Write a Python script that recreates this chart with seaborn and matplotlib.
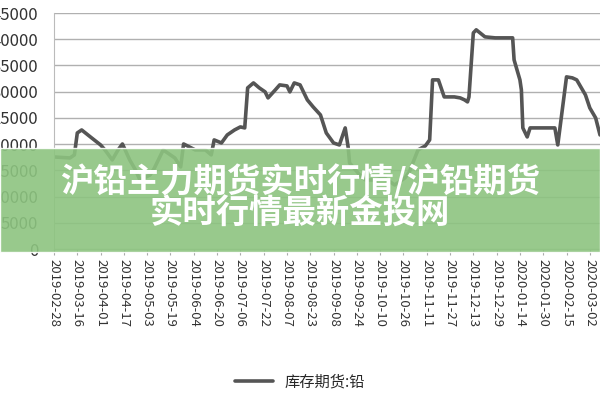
import pandas as pd
import seaborn as sns
import matplotlib.pyplot as plt

# days since 2019-02-28 and inventory values
day_offsets = [0, 11, 14, 16, 19, 25, 32, 35, 40, 44, 47, 52, 56, 59, 66, 69, 75, 83, 87, 89,
               93, 97, 104, 108, 110, 115, 119, 124, 128, 131, 133, 137, 141, 145, 147, 152, 155, 160, 162, 165,
               169, 174, 178, 183, 187, 192, 196, 200, 202, 203, 210, 214, 220, 227, 234, 241, 244, 250, 255, 258,
               260, 264, 268, 275, 279, 282, 284, 285, 288, 290, 296, 303, 315, 316, 320, 321, 322, 325, 327, 344,
               346, 352, 356, 359, 365, 368, 372, 375]
stock = [17550, 17360, 17940, 22130, 22700, 21370, 19840, 18890, 16980, 18890, 20030, 16980, 15070, 13160, 14120, 15450, 18890, 17360, 15650, 20030,
         19460, 18890, 18890, 17940, 20800, 20220, 21750, 22700, 23280, 23090, 30720, 31670, 30720, 29960, 28810, 30340, 31290, 31100, 29960, 31670,
         31290, 28430, 27090, 25570, 22130, 20220, 19840, 23090, 19460, 16410, 14120, 13160, 13160, 13550, 12210, 13550, 14690, 18890, 19650, 20800,
         32250, 32250, 29000, 29000, 28810, 28430, 28050, 29000, 41210, 41790, 40450, 40260, 40260, 36060, 32250, 30340, 23090, 21370, 23090, 23090,
         19840, 32820, 32630, 32250, 29380, 26900, 25000, 21750]
start = pd.Timestamp('2019-02-28')
tick_dates = pd.date_range(start, '2020-03-02', freq='16D')

df = pd.DataFrame({'date': start + pd.to_timedelta(day_offsets, unit='D'), 'stock': stock})

sns.set_style('white')
plt.rcParams['font.family'] = ['Noto Sans CJK SC', 'DejaVu Sans']

fig = plt.figure(figsize=(6, 4), dpi=100)
ax = fig.add_axes([0.09, 0.3775, 0.91, 0.59])
sns.lineplot(data=df, x='date', y='stock', ax=ax, color='#555555', linewidth=2.6, label='库存期货:铅')

ax.set_ylim(0, 45000)
ax.set_yticks(range(0, 45001, 5000))
ax.set_xlim(start, start + pd.Timedelta(days=375))
ax.set_xticks(tick_dates)
ax.set_xticklabels([d.strftime('%Y-%m-%d') for d in tick_dates], rotation=-90, fontsize=9.5, color='#333333')
ax.tick_params(axis='y', labelsize=12, colors='#333333', pad=8)
ax.tick_params(axis='x', length=4, color='#aaaaaa', bottom=True)
ax.grid(axis='y', color='#b0b0b0', linewidth=1)
for s in ['top', 'right']:
    ax.spines[s].set_visible(False)
ax.spines['left'].set_color('#bbbbbb')
ax.spines['bottom'].set_color('#bbbbbb')
ax.set_xlabel('')
ax.set_ylabel('')
ax.legend(loc='center', bbox_to_anchor=(0.5, 0.045), bbox_transform=fig.transFigure, frameon=False,
          fontsize=11, handlelength=2.5)

# green banner overlay
fig.patches.append(plt.Rectangle((0, 0.37), 1, 0.26, transform=fig.transFigure,
                                 facecolor='#8dc480', alpha=0.9, zorder=5))
fig.text(0.5, 0.545, '沪铅主力期货实时行情/沪铅期货', ha='center', va='center', color='white',
         fontsize=24, fontweight='heavy', zorder=6)
fig.text(0.5, 0.465, '实时行情最新金投网', ha='center', va='center', color='white',
         fontsize=24, fontweight='heavy', zorder=6)

fig.savefig('out.png', dpi=100)
